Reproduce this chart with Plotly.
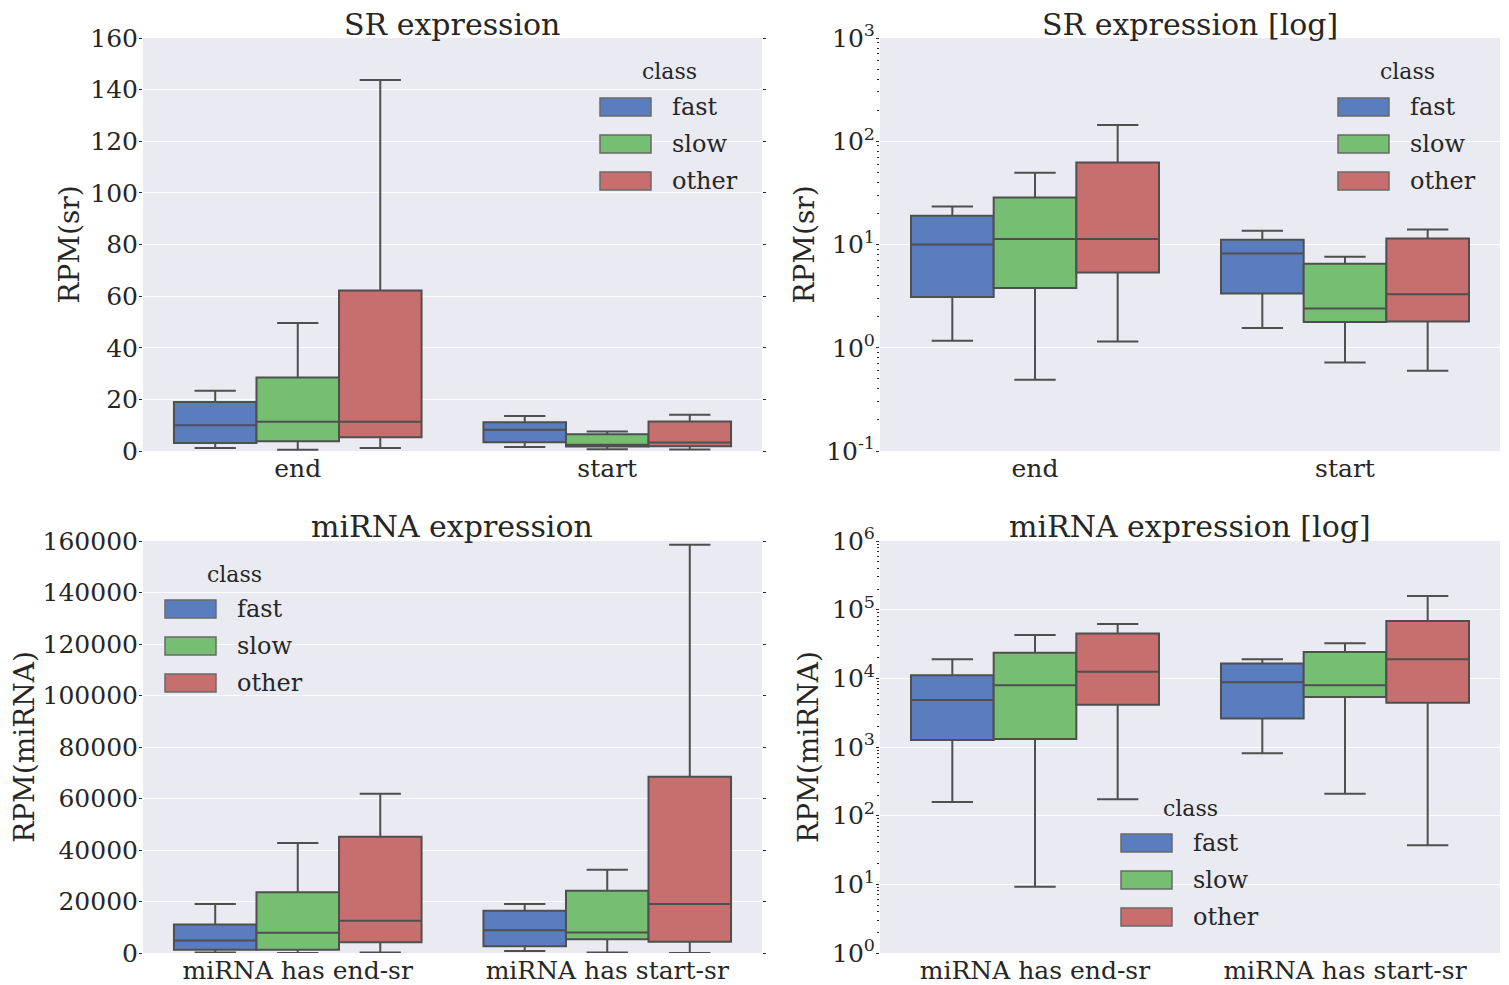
import plotly.graph_objects as go

# page size and the browser's default body margin (the plot div starts at 8,8)
PAGE_W, PAGE_H = 1509, 985
OFF = 8
W, H = PAGE_W - OFF, PAGE_H - OFF

# ---------------- data ----------------
classes = ["fast", "slow", "other"]
sr_categories = ["end", "start"]
mirna_categories = ["miRNA has end-sr", "miRNA has start-sr"]

# rows: fast, slow, other ; columns: end, start
sr_low = [[1.17, 1.55], [0.49, 0.72], [1.15, 0.60]]
sr_q1 = [[3.1, 3.35], [3.8, 1.78], [5.35, 1.8]]
sr_median = [[10.0, 8.2], [11.3, 2.4], [11.3, 3.3]]
sr_q3 = [[19.0, 11.1], [28.5, 6.5], [62.2, 11.4]]
sr_high = [[23.3, 13.6], [49.6, 7.6], [143.7, 14.0]]

# rows: fast, slow, other ; columns: miRNA has end-sr, miRNA has start-sr
mirna_low = [[158, 810], [9.2, 208], [173, 37]]
mirna_q1 = [[1260, 2610], [1310, 5350], [4130, 4400]]
mirna_median = [[4850, 8800], [7900, 7950], [12500, 19000]]
mirna_q3 = [[11100, 16400], [23600, 24200], [45100, 68400]]
mirna_high = [[19000, 19000], [42700, 32300], [61800, 158500]]

sr_log_tickvals = [0.1, 1, 10, 100, 1000]
sr_log_ticktext = ["10<sup>-1</sup>", "10<sup>0</sup>", "10<sup>1</sup>", "10<sup>2</sup>", "10<sup>3</sup>"]
mirna_log_tickvals = [1, 10, 100, 1000, 10000, 100000, 1000000]
mirna_log_ticktext = ["10<sup>0</sup>", "10<sup>1</sup>", "10<sup>2</sup>", "10<sup>3</sup>",
                      "10<sup>4</sup>", "10<sup>5</sup>", "10<sup>6</sup>"]

panel_titles = ["SR expression", "SR expression [log]", "miRNA expression", "miRNA expression [log]"]
y_titles = ["RPM(sr)", "RPM(sr)", "RPM(miRNA)", "RPM(miRNA)"]

# ---------------- style ----------------
fills = ["#597DBE", "#76BF72", "#C76E6E"]
edge = "#4f4f4f"
text_col = "#262626"
bg = "#EAEAF2"
FONT = "DejaVu Serif"

fig = go.Figure()

panels = [
    ("x", "y", sr_categories, sr_low, sr_q1, sr_median, sr_q3, sr_high),
    ("x2", "y2", sr_categories, sr_low, sr_q1, sr_median, sr_q3, sr_high),
    ("x3", "y3", mirna_categories, mirna_low, mirna_q1, mirna_median, mirna_q3, mirna_high),
    ("x4", "y4", mirna_categories, mirna_low, mirna_q1, mirna_median, mirna_q3, mirna_high),
]

for xa, ya, cats, lo, q1, med, q3, hi in panels:
    for i, cls in enumerate(classes):
        fig.add_trace(go.Box(
            x=cats, q1=q1[i], median=med[i], q3=q3[i],
            lowerfence=lo[i], upperfence=hi[i],
            name=cls, offsetgroup=cls,
            fillcolor=fills[i], line=dict(color=edge, width=2),
            whiskerwidth=0.5, boxpoints=False, showlegend=False,
            xaxis=xa, yaxis=ya,
        ))

# page-pixel geometry of the four plot areas
colx = [(143, 762), (880, 1500)]
rowy = [(38, 451), (541, 953)]


def px_x(p):
    return (p - OFF) / W


def px_y(p):
    return 1 - (p - OFF) / H


tickfont = dict(family=FONT, size=25, color=text_col)

common_x = dict(type="category", range=[-0.5, 1.5], showgrid=False, zeroline=False,
                ticks="", tickfont=tickfont, ticklabelstandoff=0,
                automargin=False, showline=False)
common_y = dict(showgrid=True, gridcolor="white", gridwidth=1.4, zeroline=False,
                ticks="outside", ticklen=3, tickcolor=text_col, tickfont=tickfont,
                ticklabelstandoff=-4, mirror="ticks",
                automargin=False, showline=False)

ytitle_standoff = [2, 3, 13, 5]

layout_axes = {}
for k, (r, c) in enumerate([(0, 0), (0, 1), (1, 0), (1, 1)]):
    suffix = "" if k == 0 else str(k + 1)
    xd = [px_x(colx[c][0]), px_x(colx[c][1])]
    yd = [px_y(rowy[r][1]), px_y(rowy[r][0])]
    layout_axes["xaxis" + suffix] = dict(common_x, domain=xd, anchor="y" + suffix)
    ya = dict(common_y, domain=yd, anchor="x" + suffix,
              title=dict(text=y_titles[k], font=dict(family=FONT, size=28, color=text_col),
                         standoff=ytitle_standoff[k]))
    if k == 0:
        ya.update(range=[0, 160], dtick=20, tick0=0)
    elif k == 2:
        ya.update(range=[0, 160000], dtick=20000, tick0=0, tickformat="d")
    elif k == 1:
        ya.update(type="log", range=[-1, 3], tickmode="array",
                  tickvals=sr_log_tickvals, ticktext=sr_log_ticktext,
                  minor=dict(dtick="D1", ticks="outside", ticklen=2, tickcolor=text_col, showgrid=False))
    else:
        ya.update(type="log", range=[0, 6], tickmode="array",
                  tickvals=mirna_log_tickvals, ticktext=mirna_log_ticktext,
                  minor=dict(dtick="D1", ticks="outside", ticklen=2, tickcolor=text_col, showgrid=False))
    layout_axes["yaxis" + suffix] = ya

annotations = []
shapes = []

# panel titles
title_pos = [(452, 24), (1190, 24), (452, 526), (1190, 526)]
for t, (cx, cy) in zip(panel_titles, title_pos):
    annotations.append(dict(text=t, x=px_x(cx), y=px_y(cy), xref="paper", yref="paper",
                            xanchor="center", yanchor="middle", showarrow=False,
                            font=dict(family=FONT, size=30, color=text_col)))

# legends (one per panel, seaborn style)
legend_pos = [(600, 98), (1338, 98), (165, 600), (1121, 834)]
for sl, top in legend_pos:
    annotations.append(dict(text="class", x=px_x(sl + 69), y=px_y(top - 26), xref="paper", yref="paper",
                            xanchor="center", yanchor="middle", showarrow=False,
                            font=dict(family=FONT, size=22, color=text_col)))
    for i, cls in enumerate(classes):
        t0 = top + 37 * i
        shapes.append(dict(type="rect", xref="paper", yref="paper",
                           x0=px_x(sl), x1=px_x(sl + 51), y0=px_y(t0 + 18), y1=px_y(t0),
                           fillcolor=fills[i], line=dict(color="#6a6a6a", width=1.5), layer="above"))
        annotations.append(dict(text=cls, x=px_x(sl + 70), y=px_y(t0 + 9), xref="paper", yref="paper",
                                xanchor="left", yanchor="middle", showarrow=False,
                                font=dict(family=FONT, size=24, color=text_col)))

fig.update_layout(
    width=W, height=H,
    margin=dict(l=0, r=0, t=0, b=0),
    paper_bgcolor="white", plot_bgcolor=bg,
    boxmode="group", boxgap=0.2, boxgroupgap=0,
    font=dict(family=FONT, size=24, color=text_col),
    annotations=annotations, shapes=shapes,
    showlegend=False,
    **layout_axes,
)

fig.write_html("out.html")
